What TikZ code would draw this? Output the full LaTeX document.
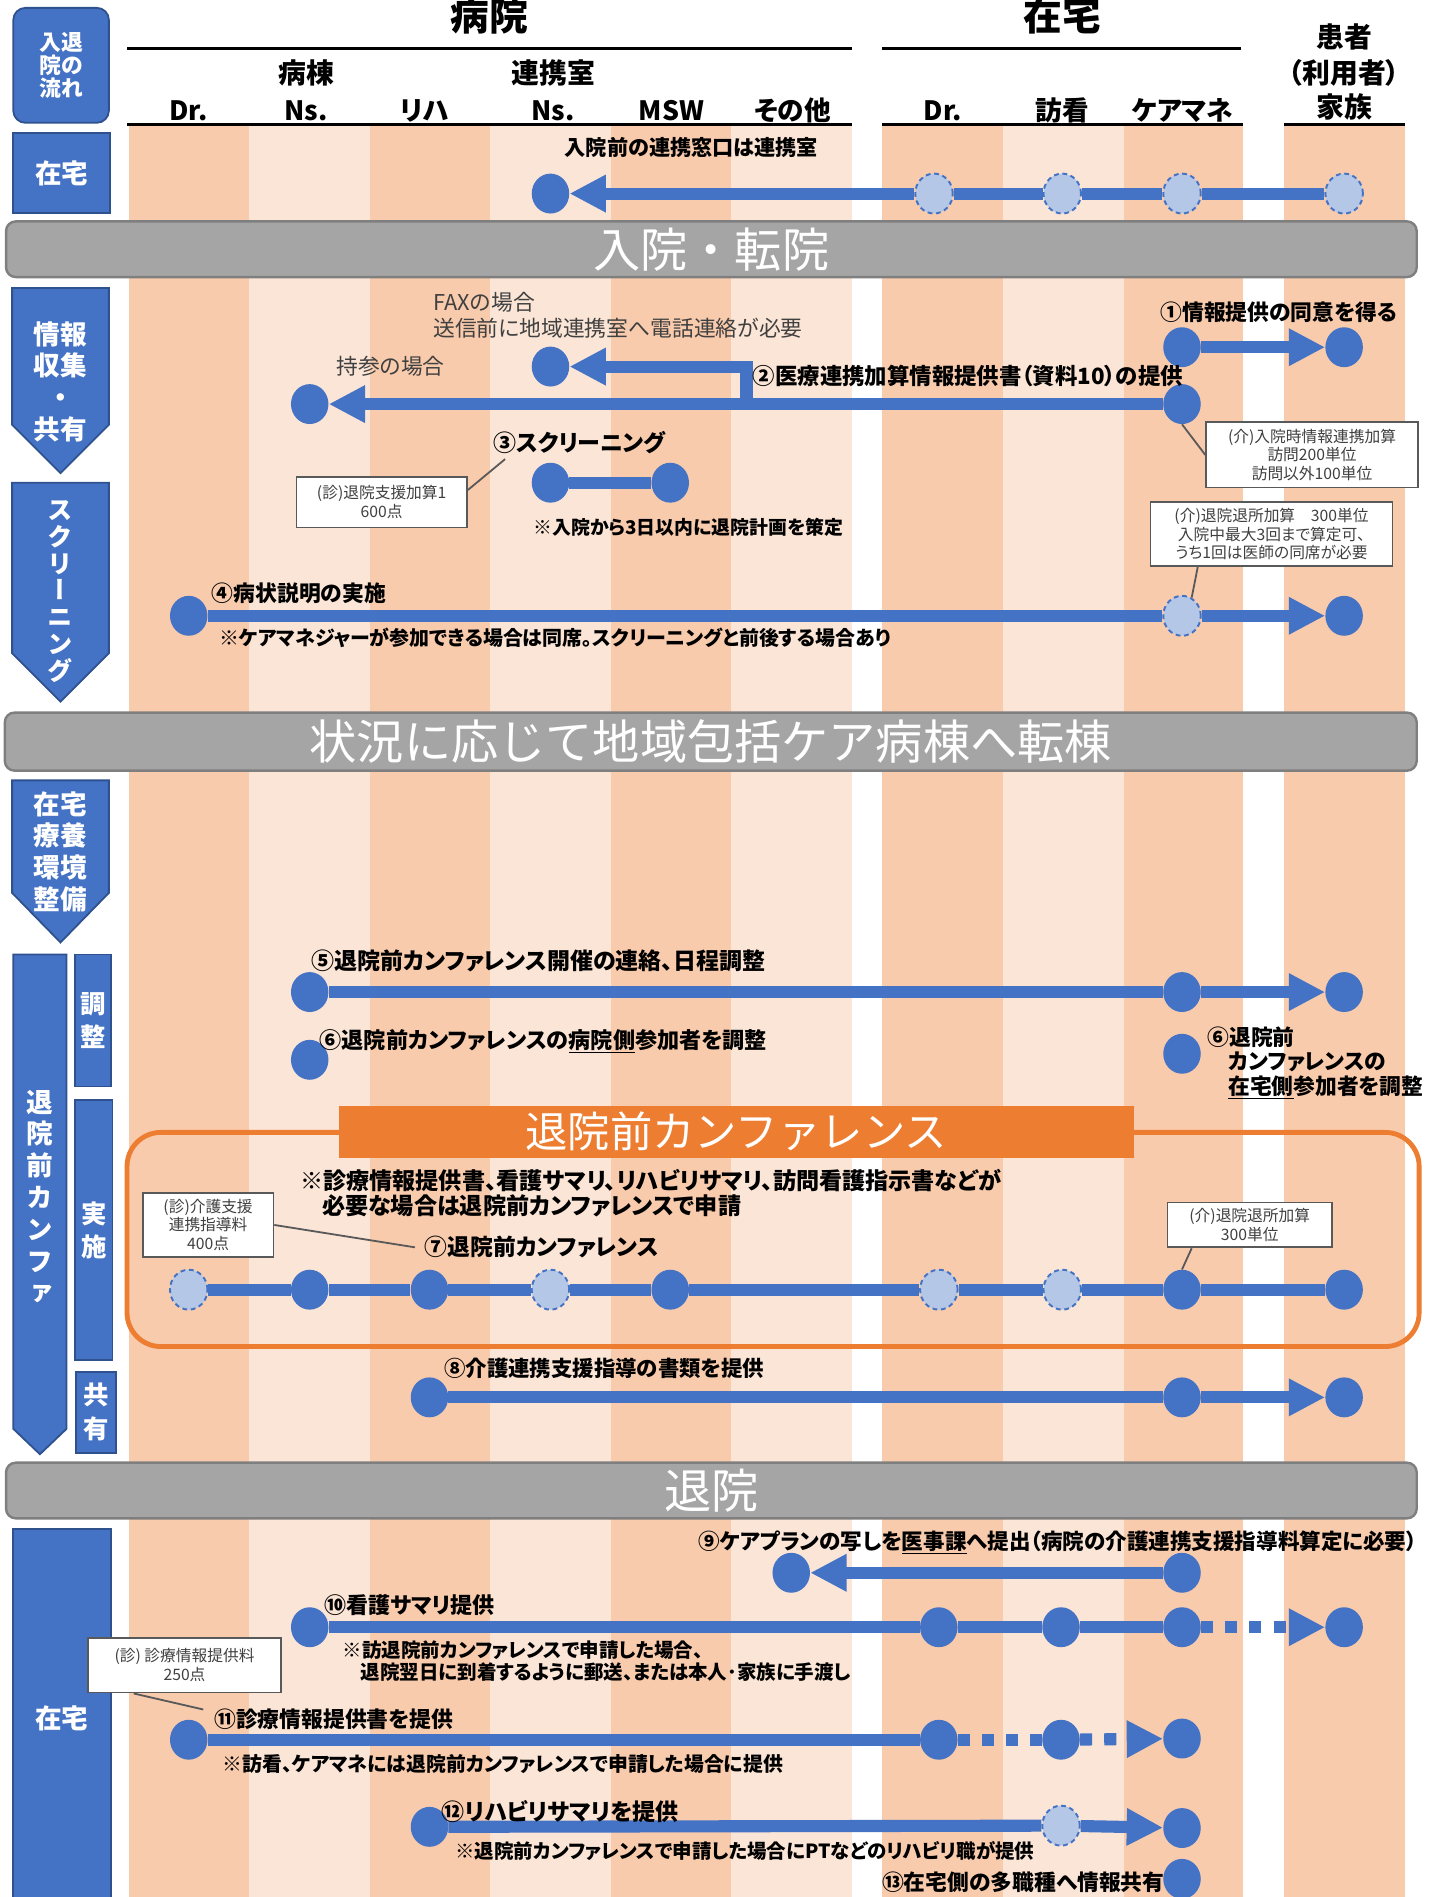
\documentclass[tikz,border=0pt]{standalone}
\usepackage{fontspec}
\setmainfont{Noto Sans CJK JP}[RawFeature=+palt]
\newfontfamily\jpfull{Noto Sans CJK JP}
\newfontfamily\jpv{Noto Sans CJK JP}[RawFeature=+vert]
\usetikzlibrary{shapes.geometric,arrows.meta}
\definecolor{blue1}{HTML}{4472C4}
\definecolor{blueb}{HTML}{2F528F}
\definecolor{lblue}{HTML}{B4C7E7}
\definecolor{sdark}{HTML}{F8CBAD}
\definecolor{slight}{HTML}{FBE5D6}
\definecolor{bargray}{HTML}{A5A5A5}
\definecolor{barbord}{HTML}{7F7F7F}
\definecolor{orng}{HTML}{ED7D31}
\definecolor{txtg}{HTML}{404040}
\definecolor{cline}{HTML}{595959}
\newcommand{\myfs}[2]{\fontsize{#1}{#2}\selectfont}
\begin{document}
\begin{tikzpicture}[x=1pt,y=-1pt,
  sn/.style={ellipse,fill=blue1,minimum width=31pt,minimum height=33pt,inner sep=0pt},
  dn/.style={ellipse,fill=lblue,draw=blue1,line width=1.6pt,dash pattern=on 4pt off 3pt,minimum width=31pt,minimum height=33pt,inner sep=0pt},
  conn/.style={draw=blue1,line width=10pt},
  arr/.style={-{Triangle[length=30pt,width=29pt]}},
  dotten/.style={dash pattern=on 10pt off 10pt},
  bbox/.style={fill=blue1,draw=blueb,line width=1.5pt},
  wl/.style={text=white,font=\bfseries\myfs{22}{26.3},align=center,inner sep=0pt},
  gbar/.style={fill=bargray,draw=barbord,line width=2pt,rounded corners=8pt,text=white,font=\jpfull\myfs{39}{44}},
  lb/.style={font=\bfseries\myfs{19}{23},inner sep=0pt},
  nt/.style={font=\bfseries\myfs{16.3}{21},inner sep=0pt},
  gt/.style={font=\myfs{18}{21},text=txtg,inner sep=0pt,align=left},
  cbox/.style={draw=cline,line width=1.5pt,fill=white,align=center,text=txtg,font=\myfs{13}{15.5},inner sep=0pt},
  cl/.style={draw=cline,line width=1.5pt},
  hd/.style={font=\bfseries\myfs{22}{26},inner sep=0pt,anchor=base},
  hl/.style={line width=2pt}
]
\useasboundingbox (0,0) rectangle (1184,1568);
% stripes
\foreach \a/\b/\c in {107/206/sdark,206/306/slight,306/405/sdark,405/505/slight,505/604/sdark,604/704/slight,729/829/sdark,829/929/slight,929/1027/sdark,1061/1161/sdark}
  \fill[\c] (\a,103) rectangle (\b,1568);
% header
\node[font=\bfseries\myfs{32}{36},anchor=base,inner sep=0pt] (hBy) at (404.5,25) {病院};
\node[font=\bfseries\myfs{32}{36},anchor=base,inner sep=0pt] (hZt) at (878,25) {在宅};
\node[hd,font=\bfseries\myfs{23}{26}] (hK1) at (1111,39) {患者};
\node[hd,font=\bfseries\myfs{23}{26}] (hK2) at (1111,69) {（利用者）};
\node[hd,font=\bfseries\myfs{23}{26}] (hK3) at (1111,97) {家族};
\node[hd,font=\bfseries\myfs{23}{26}] (hByoto) at (253,69) {病棟};
\node[hd,font=\bfseries\myfs{23}{26}] (hRenk) at (457.5,69) {連携室};
\node[hd] (c1) at (156,100) {Dr.};
\node[hd] (c2) at (253,100) {Ns.};
\node[hd] (c3) at (351,100) {リハ};
\node[hd] (c4) at (457,100) {Ns.};
\node[hd] (c5) at (555,100) {MSW};
\node[hd] (c6) at (655,100) {その他};
\node[hd] (c7) at (779.5,100) {Dr.};
\node[hd] (c8) at (878,100) {訪看};
\node[hd] (c9) at (977.5,100) {ケアマネ};
\draw[hl] (105,40) -- (704,40);
\draw[hl] (729,40) -- (1026,40);
\draw[hl] (105,103) -- (704,103);
\draw[hl] (729,103) -- (1027,103);
\draw[hl] (1061,103) -- (1161,103);
% left labels
\node[bbox,rounded corners=10pt,minimum width=79pt,minimum height=95pt] (bFlow) at (50.5,54) {};
\node[wl,font=\bfseries\myfs{18}{19.3}] (tFlow) at (50.5,54) {入退\\院の\\流れ};
\node[bbox,minimum width=80pt,minimum height=66pt] (bHome1) at (51,143) {};
\node[wl] (tHome1) at (51,143) {在宅};
\draw[bbox] (10,238) -- (90,238) -- (90,351) -- (50,391) -- (10,351) -- cycle;
\node[wl] (tInfo) at (50,315.5) {情報\\収集\\・\\共有};
\draw[bbox] (10,399) -- (90,399) -- (90,540) -- (50,580) -- (10,540) -- cycle;
\node[wl,font=\jpv\bfseries\myfs{21}{22.3}] (tScr) at (50,489) {ス\\ク\\リ\\ー\\ニ\\ン\\グ};
\draw[bbox] (10,645) -- (90,645) -- (90,738) -- (50,779) -- (10,738) -- cycle;
\node[wl] (tEnv) at (50,704) {在宅\\療養\\環境\\整備};
\draw[bbox] (11,789) -- (55,789) -- (55,1181) -- (33,1202) -- (11,1181) -- cycle;
\node[wl,font=\jpv\bfseries\myfs{22}{26.3}] (tConf) at (33,989) {退\\院\\前\\カ\\ン\\フ\\ァ};
\node[bbox,minimum width=30pt,minimum height=109pt] (bAdj) at (77,843.5) {};
\node[wl,font=\bfseries\myfs{21}{27.5}] (tAdj) at (77,843.5) {調\\整};
\node[bbox,minimum width=31pt,minimum height=215pt] (bImp) at (77.5,1016.5) {};
\node[wl,font=\bfseries\myfs{21}{28}] (tImp) at (77.5,1017) {実\\施};
\node[bbox,minimum width=33pt,minimum height=67pt] (bShr) at (79.5,1167.5) {};
\node[wl,font=\bfseries\myfs{21}{28}] (tShr) at (79.5,1167) {共\\有};
\node[bbox,minimum width=81pt,minimum height=312pt,anchor=north] (bHome2) at (51,1263) {};
\node[wl] (tHome2) at (51,1420) {在宅};
% gray bars
\node[gbar,minimum width=1166pt,minimum height=46pt] (bar1) at (588,206) {入院・転院};
\node[gbar,minimum width=1167pt,minimum height=48pt] (bar2) at (587.5,613) {状況に応じて地域包括ケア病棟へ転棟};
\node[gbar,minimum width=1166pt,minimum height=46pt] (bar3) at (588,1232) {退院};
% conference frame
\draw[orng,line width=4pt,rounded corners=28pt] (105,936) rectangle (1173,1113);
\node[fill=orng,minimum width=657pt,minimum height=43pt,text=white,font=\jpfull\myfs{35}{40},inner sep=0pt] (banner) at (608.5,935.5) {退院前カンファレンス};
% flow nodes
\node[sn] (nt1) at (455,160) {};
\node[dn] (nt2) at (772,160) {};
\node[dn] (nt3) at (878,160) {};
\node[dn] (nt4) at (977,160) {};
\node[dn] (nt5) at (1111,160) {};
\node[sn] (n1a) at (977,287) {};
\node[sn] (n1b) at (1111,287) {};
\node[sn] (n2a) at (256,334) {};
\node[sn] (n2b) at (455,303) {};
\node[sn] (n2h) at (977,334) {};
\node[sn] (n3a) at (455,399) {};
\node[sn] (n3b) at (554,399) {};
\node[sn] (n4a) at (156,509) {};
\node[dn] (n4b) at (977,509) {};
\node[sn] (n4c) at (1111,509) {};
\node[sn] (n5a) at (256,820) {};
\node[sn] (n5b) at (977,820) {};
\node[sn] (n5c) at (1111,820) {};
\node[sn] (n6a) at (256,876) {};
\node[sn] (n6b) at (977,871) {};
\node[dn] (n7a) at (156,1066) {};
\node[sn] (n7b) at (256,1066) {};
\node[sn] (n7c) at (355,1066) {};
\node[dn] (n7d) at (455,1066) {};
\node[sn] (n7e) at (554,1066) {};
\node[dn] (n7f) at (776,1066) {};
\node[dn] (n7g) at (878,1066) {};
\node[sn] (n7h) at (977,1066) {};
\node[sn] (n7i) at (1111,1066) {};
\node[sn] (n8a) at (355,1155) {};
\node[sn] (n8b) at (977,1155) {};
\node[sn] (n8c) at (1111,1155) {};
\node[sn] (n9a) at (654,1300) {};
\node[sn] (n9b) at (977,1300) {};
\node[sn] (n10a) at (256,1345) {};
\node[sn] (n10b) at (776,1345) {};
\node[sn] (n10c) at (877,1345) {};
\node[sn] (n10d) at (977,1345) {};
\node[sn] (n10e) at (1111,1345) {};
\node[sn] (n11a) at (156,1438) {};
\node[sn] (n11b) at (776,1438) {};
\node[sn] (n11c) at (877,1438) {};
\node[sn] (n11d) at (977,1437) {};
\node[sn] (n12a) at (355,1510) {};
\node[dn] (n12b) at (877,1509) {};
\node[sn] (n12c) at (977,1511) {};
\node[sn] (n13) at (977,1553) {};
% connectors
\draw[conn] (nt5) -- (nt4) -- (nt3) -- (nt2);
\draw[conn,arr] (nt2) -- (nt1);
\draw[conn,arr] (n1a) -- (n1b);
\draw[conn,arr] (n2h) -- (n2a);
\coordinate (br) at (617,334);
\draw[conn,arr] (br) |- (n2b);
\draw[conn] (n3a) -- (n3b);
\draw[conn] (n4a) -- (n4b);
\draw[conn,arr] (n4b) -- (n4c);
\draw[conn] (n5a) -- (n5b);
\draw[conn,arr] (n5b) -- (n5c);
\draw[conn] (n7a) -- (n7b) -- (n7c) -- (n7d) -- (n7e) -- (n7f) -- (n7g) -- (n7h) -- (n7i);
\draw[conn] (n8a) -- (n8b);
\draw[conn,arr] (n8b) -- (n8c);
\draw[conn,arr] (n9b) -- (n9a);
\draw[conn] (n10a) -- (n10b) -- (n10c) -- (n10d);
\draw[conn,arr,dotten] (n10d) -- (n10e);
\draw[conn] (n11a) -- (n11b);
\draw[conn,dotten] (n11b) -- (n11c);
\draw[conn,arr,dotten] (n11c) -- (n11d);
\draw[conn] (n12a) -- (n12b);
\draw[conn,arr] (n12b) -- (n12c);
% texts
\node[lb,font=\bfseries\myfs{17.5}{22}] (t0) at (571.5,122) {入院前の連携窓口は連携室};
\node[lb,font=\bfseries\myfs{18}{22}] (t1) at (1057,258) {①情報提供の同意を得る};
\node[lb,font=\bfseries\myfs{18.5}{22}] (t2) at (800,311) {②医療連携加算情報提供書（資料10）の提供};
\node[gt,anchor=west] (tFax) at (358,260.5) {FAXの場合\\送信前に地域連携室へ電話連絡が必要};
\node[gt,anchor=west] (tJis) at (278,303) {持参の場合};
\node[lb] (t3) at (479,366) {③スクリーニング};
\node[nt,font=\bfseries\myfs{15.6}{20}] (t3n) at (569,436) {※入院から3日以内に退院計画を策定};
\node[lb,anchor=west,font=\bfseries\myfs{18}{22}] (t4) at (175,490) {④病状説明の実施};
\node[nt,anchor=west,font=\bfseries\myfs{16.5}{22}] (t4n) at (181,527) {※ケアマネジャーが参加できる場合は同席。スクリーニングと前後する場合あり};
\node[lb,anchor=west] (t5) at (257,794) {⑤退院前カンファレンス開催の連絡、日程調整};
\node[lb,anchor=west,font=\bfseries\myfs{18.3}{22}] (t6) at (264,861) {⑥退院前カンファレンスの\underline{病院側}参加者を調整};
\node[lb,anchor=west,align=left,font=\bfseries\myfs{18}{20.5}] (t6r) at (998,878.5) {⑥退院前\\\hspace*{17pt}カンファレンスの\\\hspace*{17pt}\underline{在宅側}参加者を調整};
\node[lb,anchor=west,align=left,font=\bfseries\myfs{19.1}{20.5}] (t7n) at (248,986) {※診療情報提供書、看護サマリ、リハビリサマリ、訪問看護指示書などが\\\hspace*{18pt}必要な場合は退院前カンファレンスで申請};
\node[lb,anchor=west,font=\bfseries\myfs{18.8}{24}] (t7) at (351,1031) {⑦退院前カンファレンス};
\node[lb,anchor=west,font=\bfseries\myfs{17.7}{22}] (t8) at (367,1131) {⑧介護連携支援指導の書類を提供};
\node[lb,anchor=west,font=\bfseries\myfs{17.8}{22}] (t9) at (577,1275) {⑨ケアプランの写しを\underline{医事課}へ提出（病院の介護連携支援指導料算定に必要）};
\node[lb,anchor=west,font=\bfseries\myfs{18.2}{22}] (t10) at (268,1327) {⑩看護サマリ提供};
\node[nt,anchor=west,align=left,font=\bfseries\myfs{16.1}{18}] (t10n) at (283,1373) {※訪退院前カンファレンスで申請した場合、\\\hspace*{15pt}退院翌日に到着するように郵送、または本人･家族に手渡し};
\node[lb,anchor=west,font=\bfseries\myfs{18}{22}] (t11) at (177,1421) {⑪診療情報提供書を提供};
\node[nt,anchor=west,font=\bfseries\myfs{16.4}{21}] (t11n) at (184,1458) {※訪看、ケアマネには退院前カンファレンスで申請した場合に提供};
\node[lb,anchor=west] (t12) at (365,1497) {⑫リハビリサマリを提供};
\node[nt,anchor=west,font=\bfseries\myfs{16.1}{21}] (t12n) at (376,1530) {※退院前カンファレンスで申請した場合にPTなどのリハビリ職が提供};
\node[lb,anchor=west,font=\bfseries\myfs{18}{22}] (t13) at (729,1556) {⑬在宅側の多職種へ情報共有};
% callouts
\node[cbox,minimum width=141pt,minimum height=42pt] (cBsk) at (315.5,415) {(診)退院支援加算1\\600点};
\node[cbox,minimum width=175pt,minimum height=54pt] (cNyu) at (1084.5,376) {(介)入院時情報連携加算\\訪問200単位\\訪問以外100単位};
\node[cbox,minimum width=200pt,minimum height=53pt] (cTai1) at (1051,441.5) {(介)退院退所加算　300単位\\入院中最大3回まで算定可、\\うち1回は医師の同席が必要};
\node[cbox,minimum width=108pt,minimum height=53pt] (cKai) at (172,1012.5) {(診)介護支援\\連携指導料\\400点};
\node[cbox,minimum width=136pt,minimum height=37pt] (cTai2) at (1033,1012.5) {(介)退院退所加算\\300単位};
\node[cbox,minimum width=159pt,minimum height=45pt] (cShin) at (152.5,1376.5) {(診) 診療情報提供料\\250点};
\draw[cl] ([yshift=10pt]cBsk.east) -- ([xshift=10pt,yshift=-4pt]t3.south west);
\draw[cl] (cNyu.west) -- (n2h.south);
\draw[cl] ([xshift=-61pt]cTai1.south) -- (n4b.62);
\draw[cl] (cKai.east) -- ([xshift=-8pt]t7.west);
\draw[cl] ([xshift=-48pt]cTai2.south) -- (n7h.north);
\draw[cl] ([xshift=-42pt]cShin.south) -- ([xshift=-9pt,yshift=8pt]t11.west);
\end{tikzpicture}
\end{document}
